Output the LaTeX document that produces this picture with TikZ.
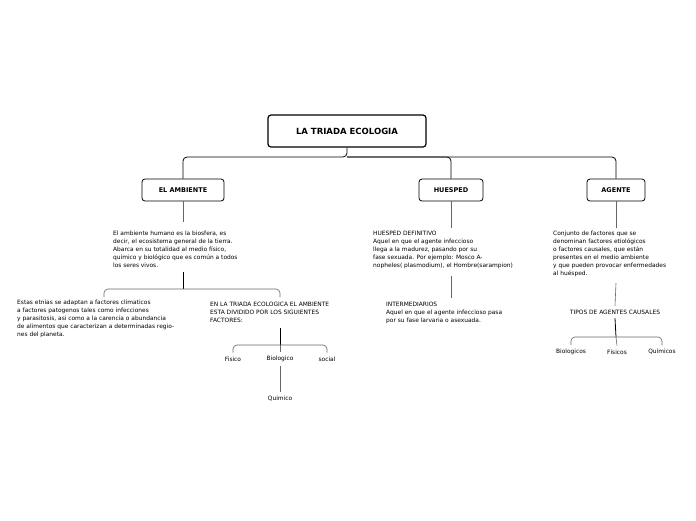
\documentclass[tikz,border=0pt]{standalone}
\usepackage{fontspec}
\setmainfont{DejaVu Sans}
\usepackage{tikz}

\begin{document}
\begin{tikzpicture}[x=1pt,y=-1pt,
  mainbox/.style={draw,very thick,rounded corners=3pt,font=\bfseries\fontsize{8.5}{10}\selectfont},
  subbox/.style={draw,thick,rounded corners=3pt,font=\bfseries\fontsize{6.5}{8}\selectfont},
  txt/.style={anchor=north west,align=left,inner sep=0pt,font=\fontsize{5.9}{7.9}\selectfont},
  lbl/.style={inner sep=1pt,outer sep=3pt,font=\fontsize{5.9}{7}\selectfont},
  link/.style={draw=black!60,semithick,rounded corners=4pt}]
\useasboundingbox (0,0) rectangle (696,520);

\node[mainbox,minimum width=158pt,minimum height=32pt] (triada) at (347,131) {LA TRIADA ECOLOGIA};
\node[subbox,minimum width=82pt,minimum height=22pt] (ambiente) at (183,190) {EL AMBIENTE};
\node[subbox,minimum width=64pt,minimum height=22pt] (huesped) at (451,190) {HUESPED};
\node[subbox,minimum width=58pt,minimum height=22pt] (agente) at (616,190) {AGENTE};
\draw[link,thick,black] (triada.south) -- (347,157) -| (ambiente.north);
\draw[link,thick,black] (347,157) -| (huesped.north);
\draw[link,thick,black] (347,157) -| (agente.north);

% el ambiente
\node[txt] (ambtxt) at (113,231) {El ambiente humano es la biosfera, es\\decir, el ecosistema general de la tierra.\\Abarca en su totalidad al medio físico,\\químico y biológico que es común a todos\\los seres vivos.};
\draw[link] (ambiente.south) -- (183,222);
\coordinate (ambfork) at (183,289);
\draw[thick] (183,272) -- (ambfork);
\node[txt] (etnias) at (17,300) {Estas etnias se adaptan a factores climaticos\\a factores patogenos tales como infecciones\\y parasitosis, asi como a la carencia o abundancia\\de alimentos que caracterizan a determinadas regio-\\nes del planeta.};
\node[txt] (divide) at (210,302) {EN LA TRIADA ECOLOGICA EL AMBIENTE\\ESTA DIVIDIDO POR LOS SIGUIENTES\\FACTORES:};
\draw[link] (104,297) |- (ambfork) -| (280,297);
\node[lbl] (fisico) at (233,359) {Fisico};
\node[lbl] (biologico) at (280,359) {Biologico};
\node[lbl] (social) at (327,359) {social};
\node[lbl] (quimico) at (280,399) {Quimico};
\draw[thick] (280,328) -- (280,345);
\draw[link] (fisico.north) |- (280,345) -| (social.north);
\draw[link] (280,345) -- (biologico.north);
\draw[link] (biologico.south) -- (quimico.north);

% huesped
\draw[link] (huesped.south) -- (451,228);
\node[txt] (definitivo) at (373,231) {HUESPED DEFINITIVO\\Aquel en que el agente infeccioso\\llega a la madurez, pasando por su\\fase sexuada. Por ejemplo: Mosco A-\\nopheles( plasmodium), el Hombre(sarampion)};
\draw[link] (451,276) -- (451,298);
\node[txt] (intermed) at (386,302) {INTERMEDIARIOS\\Aquel en que el agente infeccioso pasa\\por su fase larvaria o asexuada.};

% agente
\draw[link] (agente.south) -- (616,228);
\node[txt] (conjunto) at (553,231) {Conjunto de factores que se\\denominan factores etiológicos\\o factores causales, que están\\presentes en el medio ambiente\\y que pueden provocar enfermedades\\al huésped.};
\node[lbl] (tipos) at (615,312) {TIPOS DE AGENTES CAUSALES};
\draw[link] (616,283) -- (tipos.north);
\node[lbl] (biologicos) at (571,352) {Biologicos};
\node[lbl] (fisicos) at (617,352) {Físicos};
\node[lbl] (quimicos) at (662,352) {Químicos};
\draw[thick] (tipos.south) -- (616,337);
\draw[link] (biologicos.north) |- (616,337) -| (quimicos.north);
\draw[link] (616,337) -- (fisicos.north);
\end{tikzpicture}
\end{document}
